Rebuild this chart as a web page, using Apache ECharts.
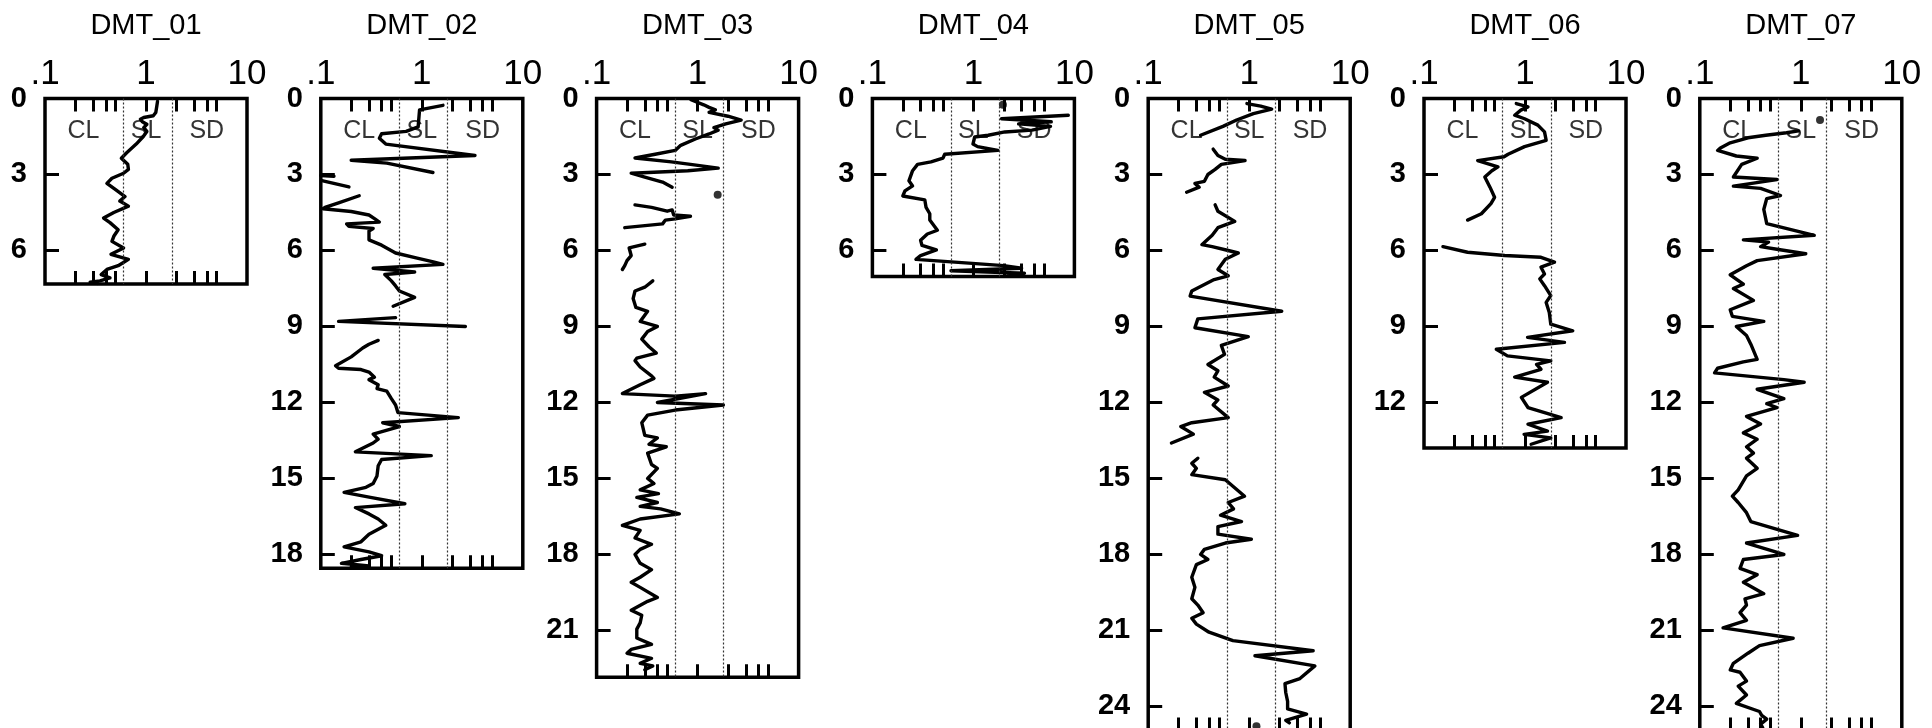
<!DOCTYPE html>
<html><head><meta charset="utf-8">
<script src="https://cdn.jsdelivr.net/npm/echarts@6/dist/echarts.min.js"></script>
<style>html,body{margin:0;padding:0;overflow:hidden;background:#fff}#c{width:1932px;height:760px}</style>
</head><body><div id="c"></div><script>
// ---------- data ----------
const panelNames = ['DMT_01','DMT_02','DMT_03','DMT_04','DMT_05','DMT_06','DMT_07'];
const depthMax = [7.32, 18.55, 22.85, 7.03, 24.95, 13.8, 24.95];
const depthStep = 3;
const xTickLabels = {'-1': '.1', '0': '1', '1': '10'};
const xMinorTicks = [0.2, 0.3, 0.4, 0.5, 1, 2, 3, 4, 5];
const zoneBounds = [0.6, 1.8];
const zoneNames = ['CL', 'SL', 'SD'];
const zoneId = [0.24, 1.0, 4.0];
const zoneDepth = 1.28;

// [depth, ID] pairs; null = gap in the profile
const dmt01 = [[0.12,1.3],[0.3,1.28],[0.55,1.25],[0.68,1.18],[0.75,0.95],[0.82,0.88],[0.92,0.92],[1.02,1.02],[1.15,0.95],[1.3,1.02],[1.5,0.94],[1.8,0.8],[2.15,0.64],[2.36,0.57],[2.6,0.66],[2.8,0.67],[2.95,0.6],[3.15,0.46],[3.35,0.41],[3.6,0.5],[3.87,0.62],[4.05,0.55],[4.25,0.67],[4.5,0.48],[4.72,0.38],[4.9,0.44],[5.18,0.53],[5.44,0.48],[5.64,0.46],[5.9,0.6],[6.15,0.45],[6.35,0.67],[6.6,0.53],[6.75,0.41],[6.95,0.36],[7.08,0.44],[7.2,0.35],[7.25,0.28],[7.3,0.33]];
const dmt02 = [[0.27,1.62],[0.45,0.95],[1.12,0.92],[1.3,0.7],[1.39,0.4],[1.57,0.38],[1.8,0.44],[2.25,3.36],[2.44,0.2],[2.55,0.45],[2.92,1.29],null,[3.04,0.1],[3.07,0.135],null,[3.25,0.105],[3.49,0.19],null,[3.84,0.24],[4.12,0.15],[4.3,0.11],[4.35,0.105],[4.46,0.2],[4.6,0.3],[4.74,0.34],[4.88,0.38],[4.95,0.18],[5.05,0.19],[5.13,0.33],[5.23,0.3],[5.58,0.3],[5.79,0.4],[6.1,0.55],[6.3,0.9],[6.45,1.3],[6.55,1.62],[6.7,0.33],[6.85,0.85],[6.95,0.43],[7.2,0.5],[7.4,0.55],[7.6,0.6],[7.85,0.85],[8.2,0.52],null,[8.65,0.55],[8.8,0.15],[9.0,2.7],null,[9.55,0.37],[9.7,0.3],[9.85,0.26],[10.2,0.2],[10.55,0.14],[10.65,0.15],[10.7,0.25],[10.8,0.3],[11.0,0.34],[11.1,0.3],[11.3,0.37],[11.45,0.36],[11.55,0.45],[11.85,0.5],[12.1,0.55],[12.4,0.58],[12.6,2.3],[12.8,0.41],[12.95,0.6],[13.25,0.33],[13.45,0.37],[13.6,0.33],[13.95,0.22],[14.1,1.24],[14.25,0.4],[14.5,0.37],[14.9,0.36],[15.2,0.33],[15.35,0.28],[15.55,0.17],[15.75,0.31],[16.0,0.68],[16.15,0.22],[16.4,0.3],[16.6,0.37],[16.85,0.44],[17.2,0.3],[17.5,0.25],[17.7,0.17],[17.9,0.3],[18.05,0.4],[18.2,0.25],[18.35,0.16],[18.45,0.3],[18.5,0.2]];
const dmt03 = [[0.05,0.86],[0.25,1.15],[0.35,1.3],[0.45,1.5],[0.55,1.3],[0.7,2.0],[0.85,2.7],[1.0,1.9],[1.15,1.45],[1.25,1.6],[1.4,1.3],[1.6,0.95],[1.85,0.68],[2.05,0.6],[2.2,0.38],[2.35,0.24],[2.5,0.55],[2.6,0.85],[2.75,1.6],[2.85,0.8],[2.95,0.22],[3.1,0.3],[3.3,0.45],[3.5,0.56],null,[4.2,0.24],[4.3,0.35],[4.45,0.5],[4.4,0.56],[4.6,0.58],[4.65,0.85],[4.75,0.6],[4.8,0.48],[4.95,0.45],[5.1,0.19],null,[5.75,0.3],[5.9,0.21],[6.2,0.22],[6.4,0.2],[6.6,0.19],[6.75,0.18],null,[7.2,0.36],[7.45,0.3],[7.6,0.24],[7.9,0.23],[8.25,0.245],[8.4,0.32],[8.8,0.27],[9.0,0.4],[9.2,0.32],[9.5,0.28],[9.8,0.33],[10.05,0.39],[10.25,0.25],[10.35,0.24],[10.6,0.27],[10.95,0.35],[11.05,0.37],[11.3,0.27],[11.65,0.18],[11.75,0.6],[11.65,1.2],[12.0,0.4],[12.1,1.8],[12.3,0.6],[12.5,0.32],[12.8,0.28],[13.3,0.3],[13.4,0.4],[13.65,0.33],[13.75,0.49],[14.0,0.32],[14.45,0.35],[14.6,0.4],[15.0,0.32],[15.2,0.37],[15.45,0.27],[15.6,0.41],[15.75,0.25],[15.95,0.4],[16.1,0.27],[16.2,0.43],[16.4,0.66],[16.6,0.27],[16.85,0.18],[17.05,0.27],[17.35,0.24],[17.6,0.35],[17.8,0.27],[18.0,0.24],[18.35,0.27],[18.6,0.35],[18.9,0.27],[19.1,0.22],[19.3,0.27],[19.7,0.4],[19.85,0.32],[20.2,0.22],[20.4,0.28],[20.7,0.27],[20.95,0.25],[21.3,0.25],[21.55,0.35],[21.75,0.22],[21.9,0.2],[22.1,0.35],[22.3,0.27],[22.4,0.36],[22.55,0.3]];
const dmt04 = [[0.66,8.7],[0.8,1.9],[0.92,5.9],[1.0,2.8],[1.1,5.8],[1.25,3.8],[1.32,2.05],[1.45,1.4],[1.52,1.03],[1.8,0.99],[1.9,1.1],[2.05,1.75],[2.2,0.52],[2.35,0.5],[2.5,0.38],[2.6,0.28],[2.85,0.25],[3.25,0.23],[3.45,0.25],[3.65,0.21],[3.85,0.2],[4.0,0.33],[4.3,0.34],[4.55,0.37],[4.8,0.37],[5.2,0.44],[5.35,0.35],[5.6,0.3],[5.8,0.31],[5.98,0.43],[6.2,0.3],[6.35,0.27],[6.5,0.9],[6.6,2.0],[6.7,3.0],[6.8,0.6],[6.9,3.2],[6.95,2.2]];
const dmt05 = [[0.2,0.95],[0.3,1.3],[0.42,1.67],[0.6,1.1],[0.85,0.75],[1.1,0.55],[1.45,0.33],null,[2.0,0.44],[2.25,0.49],[2.4,0.58],[2.45,0.91],[2.6,0.53],[2.8,0.46],[3.0,0.39],[3.27,0.36],[3.35,0.29],[3.5,0.32],[3.7,0.24],null,[4.2,0.46],[4.45,0.49],[4.85,0.72],[5.1,0.49],[5.4,0.43],[5.77,0.34],[5.85,0.43],[6.0,0.62],[6.1,0.78],[6.35,0.58],[6.75,0.49],[7.0,0.62],[7.15,0.45],[7.6,0.27],[7.8,0.26],[8.4,2.1],[8.7,0.31],[9.05,0.29],[9.4,0.98],[9.75,0.53],[10.1,0.57],[10.5,0.39],[10.75,0.49],[11.0,0.45],[11.35,0.62],[11.6,0.36],[11.9,0.49],[12.1,0.44],[12.6,0.62],[12.8,0.27],[12.95,0.21],[13.25,0.28],[13.6,0.17],null,[14.2,0.31],[14.4,0.27],[14.6,0.3],[14.85,0.27],[15.05,0.58],[15.7,0.9],[15.95,0.62],[16.2,0.7],[16.45,0.52],[16.7,0.84],[16.9,0.49],[17.2,0.49],[17.4,1.05],[17.55,0.58],[17.8,0.36],[18.0,0.33],[18.2,0.39],[18.4,0.3],[18.9,0.27],[19.3,0.29],[19.75,0.27],[20.0,0.31],[20.3,0.35],[20.52,0.27],[20.75,0.3],[21.07,0.4],[21.4,0.69],[21.8,4.3],[22.0,1.14],[22.4,4.47],[22.9,3.18],[23.1,2.26],[23.45,2.3],[23.8,2.4],[24.1,2.4],[24.3,3.7],[24.55,2.3],[24.65,2.5]];
const dmt06 = [[0.2,0.82],[0.33,1.07],[0.46,0.91],[0.66,0.79],[0.8,0.99],[1.05,1.34],[1.32,1.56],[1.65,1.62],[1.9,0.99],[2.2,0.68],[2.3,0.62],[2.45,0.34],[2.7,0.54],[2.85,0.47],[3.1,0.4],[3.5,0.45],[3.9,0.5],[4.15,0.46],[4.55,0.37],[4.8,0.27],null,[5.85,0.154],[6.07,0.27],[6.2,0.63],[6.27,1.44],[6.46,1.96],[6.66,1.44],[6.93,1.56],[7.12,1.4],[7.39,1.56],[7.78,1.8],[8.05,1.62],[8.45,1.74],[8.91,1.8],[9.17,2.97],[9.43,1.06],[9.63,2.46],[9.9,0.52],[10.16,0.67],[10.36,1.8],[10.5,1.3],[10.69,1.44],[11.0,0.79],[11.2,1.67],[11.8,0.92],[12.2,1.07],[12.6,2.28],[12.86,1.07],[13.13,1.67],[13.26,0.98],[13.4,1.8],[13.65,1.15]];
const dmt07 = [[1.28,0.95],[1.35,0.72],[1.45,0.45],[1.55,0.3],[1.75,0.2],[1.95,0.16],[2.05,0.15],[2.27,0.23],[2.36,0.37],[2.6,0.26],[3.1,0.215],[3.2,0.58],[3.46,0.215],[3.55,0.4],[3.83,0.63],[3.95,0.46],[4.38,0.43],[4.94,0.46],[5.4,1.36],[5.58,0.27],[5.67,0.48],[5.85,0.4],[5.95,0.58],[6.13,1.12],[6.4,0.37],[6.6,0.29],[6.96,0.2],[7.33,0.27],[7.5,0.215],[7.97,0.34],[8.34,0.2],[8.6,0.21],[8.8,0.43],[9.0,0.23],[9.36,0.29],[9.7,0.32],[10.3,0.37],[10.4,0.27],[10.65,0.15],[10.83,0.14],[11.1,0.68],[11.2,1.08],[11.48,0.37],[11.85,0.68],[12.05,0.46],[12.2,0.58],[12.55,0.29],[12.85,0.4],[13.2,0.27],[13.45,0.37],[13.75,0.29],[14.0,0.34],[14.2,0.29],[14.6,0.37],[14.9,0.29],[15.45,0.24],[15.7,0.21],[15.95,0.24],[16.35,0.29],[16.7,0.32],[17.25,0.93],[17.55,0.29],[18.0,0.68],[18.2,0.27],[18.55,0.25],[18.8,0.37],[19.1,0.27],[19.55,0.43],[19.75,0.28],[20.0,0.29],[20.3,0.25],[20.6,0.29],[20.9,0.17],[21.31,0.84],[21.6,0.39],[21.9,0.3],[22.3,0.215],[22.56,0.2],[22.65,0.25],[23.0,0.29],[23.2,0.24],[23.55,0.29],[23.88,0.23],[24.2,0.39],[24.35,0.41],[24.5,0.46],[24.7,0.4],[24.85,0.42]];
const profiles = [dmt01, dmt02, dmt03, dmt04, dmt05, dmt06, dmt07];

// isolated single readings (panel number 1..7)
const dotPanel = [3, 4, 5, 7];
const dotId = [1.58, 1.96, 1.18, 1.55];
const dotDepth = [3.8, 0.25, 24.78, 0.85];

// ---------- layout ----------
const FONT = '"Liberation Sans", Arial, Helvetica, sans-serif';
const L0 = 45, STEP = 275.8, W = 202, TOP = 98.5, PXM = 25.33;
const toDecade = v => Math.log10(v) + 1;   // helper tick axes run 0..2 decades above 0.1
const xMin = 0.1, xMax = 10;
const TICK_PX = 14;
const tickEnd = xMin * Math.pow(10, TICK_PX / (W / 2)); // depth tick length expressed on the log axis

const grid = [], xAxis = [], yAxis = [], series = [], title = [];
panelNames.forEach((name, i) => {
  const left = L0 + STEP * i;
  const h = depthMax[i] * PXM;
  title.push({text: name, left: left + W / 2, top: 11, textAlign: 'center', padding: 0,
    textStyle: {fontSize: 29, fontWeight: 'normal', color: '#000', fontFamily: FONT}});
  grid.push({left: left, top: TOP, width: W, height: h, show: true, borderColor: '#000', borderWidth: 3.5, backgroundColor: 'transparent'});
  grid.push({left: left, top: TOP, width: W, height: h, show: false});
  // 3i: main log axis (top, labels)
  xAxis.push({type: 'log', logBase: 10, gridIndex: 2 * i, position: 'top', min: xMin, max: xMax,
    axisLine: {show: false, onZero: false}, axisTick: {show: false}, splitLine: {show: false},
    axisLabel: {fontSize: 35, margin: 7, color: '#000', fontFamily: FONT,
      formatter: v => xTickLabels[String(Math.round(Math.log10(v)))]}});
  // 3i+1: bottom minor ticks
  xAxis.push({type: 'value', gridIndex: 2 * i, position: 'bottom', min: 0, max: 2,
    axisLine: {show: false, onZero: false}, axisLabel: {show: false}, splitLine: {show: false},
    axisTick: {show: true, inside: true, length: 13, customValues: xMinorTicks.map(toDecade), lineStyle: {color: '#000', width: 3}}});
  // 3i+2: top minor ticks
  xAxis.push({type: 'value', gridIndex: 2 * i + 1, position: 'top', min: 0, max: 2,
    axisLine: {show: false, onZero: false}, axisLabel: {show: false}, splitLine: {show: false},
    axisTick: {show: true, inside: true, length: 13, customValues: xMinorTicks.map(toDecade), lineStyle: {color: '#000', width: 3}}});
  yAxis.push({type: 'value', gridIndex: 2 * i, position: 'left', inverse: true, min: 0, max: depthMax[i], interval: depthStep,
    axisLine: {show: false, onZero: false}, splitLine: {show: false}, axisTick: {show: false},
    axisLabel: {fontSize: 29, fontWeight: 'bold', margin: 18, color: '#000', fontFamily: FONT, showMaxLabel: false}});
  yAxis.push({type: 'value', gridIndex: 2 * i + 1, inverse: true, min: 0, max: depthMax[i], show: false,
    axisLine: {onZero: false}});

  // depth ticks on the left frame: short solid segments, one per labelled depth
  const depthTickPath = [];
  for (let d = depthStep; d <= depthMax[i]; d += depthStep) {
    depthTickPath.push([xMin, d], [tickEnd, d], ['-', '-']);
  }
  series.push({type: 'line', xAxisIndex: 3 * i, yAxisIndex: 2 * i, animation: false, silent: true,
    symbol: 'none', connectNulls: false,
    lineStyle: {color: '#000', width: 3, cap: 'butt'},
    data: depthTickPath});

  series.push({type: 'line', xAxisIndex: 3 * i, yAxisIndex: 2 * i, animation: false,
    symbol: 'none', connectNulls: false,
    lineStyle: {color: '#000', width: 3.4, join: 'round', cap: 'round'},
    data: profiles[i].map(p => p ? [p[1], p[0]] : ['-', '-']),
    markLine: {silent: true, symbol: ['none', 'none'], animation: false, label: {show: false},
      lineStyle: {type: [2, 2], color: '#333', width: 1.2},
      data: zoneBounds.map(b => ({xAxis: b}))}});
  series.push({type: 'scatter', xAxisIndex: 3 * i, yAxisIndex: 2 * i, animation: false, silent: true,
    symbolSize: 1, itemStyle: {color: 'rgba(0,0,0,0)'},
    label: {show: true, position: 'inside', formatter: p => p.data[2], fontSize: 25, color: '#000', fontFamily: FONT},
    data: zoneNames.map((n, k) => [zoneId[k], zoneDepth, n])});
  const dd = [];
  dotPanel.forEach((p, k) => { if (p === i + 1) dd.push([dotId[k], dotDepth[k]]); });
  if (dd.length) series.push({type: 'scatter', xAxisIndex: 3 * i, yAxisIndex: 2 * i, animation: false,
    symbolSize: 8, itemStyle: {color: '#000'}, data: dd});
});

const chart = echarts.init(document.getElementById('c'), null, {renderer: 'canvas'});
chart.setOption({animation: false, backgroundColor: '#fff', title, grid, xAxis, yAxis, series});
</script></body></html>
